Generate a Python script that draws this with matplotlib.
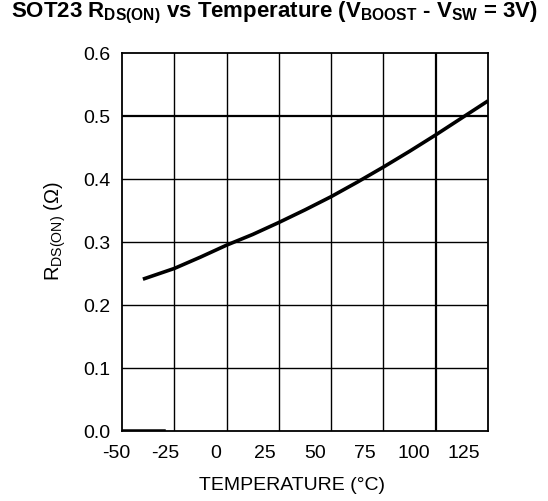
import matplotlib
matplotlib.use('Agg')
import matplotlib.pyplot as plt
from matplotlib.transforms import ScaledTranslation

plt.rcParams.update({'font.family': 'Liberation Sans', 'font.size': 14,
                     'mathtext.fontset': 'custom',
                     'mathtext.rm': 'Liberation Sans',
                     'mathtext.bf': 'Liberation Sans:bold'})

# curve
temp = [-40, -25, -12.5, 0, 12.5, 25, 37.5, 50, 62.5, 75, 87.5, 100, 112.5, 125]
rds_on = [0.241, 0.258, 0.276, 0.295, 0.312, 0.331, 0.351, 0.372, 0.395,
          0.419, 0.444, 0.470, 0.497, 0.524]

xticks = [-50, -25, 0, 25, 50, 75, 100, 125]
yticks = [0.0, 0.1, 0.2, 0.3, 0.4, 0.5, 0.6]

fig = plt.figure(figsize=(5.48, 5.01), dpi=100)
ax = fig.add_axes([0.2226, 0.1397, 0.6679, 0.7545])

for x in xticks[1:-1]:
    ax.axvline(x, color='black', lw=1.6 if x == 100 else 1.0, zorder=1)
for y in yticks[1:-1]:
    ax.axhline(y, color='black', lw=1.6 if y == 0.5 else 1.0, zorder=1)

ax.plot(temp, rds_on, color='black', lw=2.6, solid_capstyle='butt', zorder=3)
# small dark stroke on the bottom edge in the original
ax.plot([-50, -30], [0.0015, 0.0015], color='black', lw=1.8, zorder=3)

ax.set_xlim(-50, 125)
ax.set_ylim(0, 0.6)
ax.set_xticks(xticks)
ax.set_yticks(yticks)
ax.set_xticklabels([str(x) for x in xticks])
ax.set_yticklabels(['%.1f' % y for y in yticks])
ax.tick_params(axis='x', length=0, pad=10, labelsize=14)
ax.tick_params(axis='y', length=0, pad=8, labelsize=14)
for s in ax.spines.values():
    s.set_linewidth(1.3)

# x labels in the original drift left of their grid lines
for x, lab in zip(xticks, ax.get_xticklabels()):
    dx = -6 - (x + 50) * 0.103
    lab.set_transform(lab.get_transform() + ScaledTranslation(dx / 100, 0, fig.dpi_scale_trans))

fig.text(292 / 548, 1 - 486 / 501, 'TEMPERATURE (°C)', ha='center', va='center', fontsize=14)
fig.text(55 / 548, 1 - 231 / 501, r'R$_{\mathrm{DS(ON)}}$ (Ω)', ha='center', va='center',
         rotation=90, fontsize=14.5)
fig.text(0.5, 1 - 17.3 / 501,
         r'SOT23 R$_{\mathbf{DS(ON)}}$ vs Temperature (V$_{\mathbf{BOOST}}$ - V$_{\mathbf{SW}}$ = 3V)',
         ha='center', va='baseline', fontsize=16, fontweight='bold')

fig.savefig('out.png', dpi=100)
